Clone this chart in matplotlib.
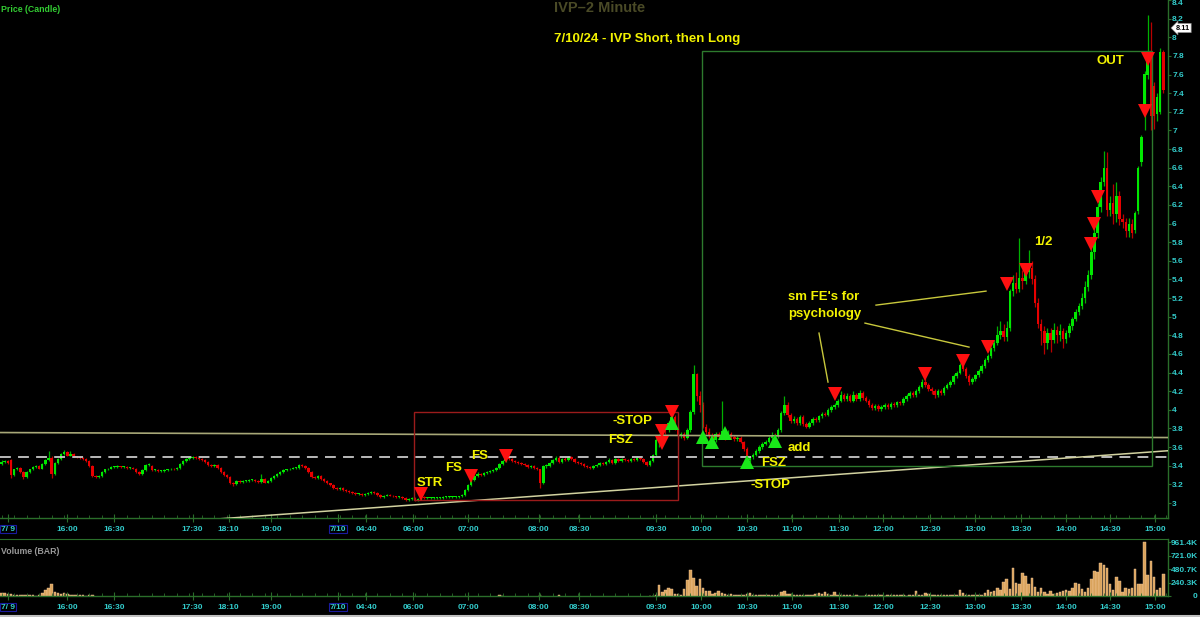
import matplotlib.pyplot as plt
import numpy as np
from matplotlib.patches import Rectangle
from matplotlib.lines import Line2D

plt.rcParams['font.family'] = ['Liberation Sans', 'DejaVu Sans']

# 2-minute candles, bar 0 = 7/9 after hours, bar 207 = 7/10 09:30
opens = [
    3.42, 3.44, 3.45, 3.46, 3.30, 3.36, 3.38, 3.33, 3.28, 3.33,
    3.36, 3.39, 3.40, 3.37, 3.42, 3.46, 3.48, 3.31, 3.43, 3.47,
    3.53, 3.55, 3.51, 3.53, 3.50, 3.49, 3.48, 3.47, 3.45, 3.40,
    3.29, 3.28, 3.29, 3.33, 3.36, 3.37, 3.39, 3.39, 3.40, 3.39,
    3.39, 3.38, 3.38, 3.37, 3.33, 3.31, 3.35, 3.41, 3.40, 3.35,
    3.35, 3.34, 3.34, 3.35, 3.36, 3.37, 3.36, 3.38, 3.42, 3.45,
    3.47, 3.48, 3.49, 3.48, 3.47, 3.46, 3.44, 3.41, 3.40, 3.41,
    3.38, 3.33, 3.30, 3.28, 3.22, 3.20, 3.24, 3.23, 3.24, 3.24,
    3.25, 3.25, 3.24, 3.23, 3.26, 3.22, 3.24, 3.27, 3.29, 3.31,
    3.33, 3.35, 3.36, 3.37, 3.38, 3.38, 3.41, 3.40, 3.38, 3.33,
    3.28, 3.27, 3.29, 3.26, 3.24, 3.21, 3.19, 3.16, 3.15, 3.16,
    3.14, 3.13, 3.12, 3.11, 3.10, 3.10, 3.09, 3.10, 3.11, 3.12,
    3.11, 3.09, 3.06, 3.08, 3.09, 3.08, 3.07, 3.06, 3.06, 3.05,
    3.03, 3.04, 3.05, 3.03, 3.04, 3.06, 3.05, 3.05, 3.05, 3.05,
    3.05, 3.05, 3.06, 3.06, 3.06, 3.06, 3.06, 3.07, 3.09, 3.14,
    3.19, 3.25, 3.29, 3.31, 3.30, 3.32, 3.33, 3.34, 3.35, 3.38,
    3.42, 3.45, 3.49, 3.47, 3.45, 3.44, 3.43, 3.42, 3.41, 3.39,
    3.40, 3.38, 3.36, 3.22, 3.40, 3.40, 3.43, 3.46, 3.48, 3.44,
    3.47, 3.46, 3.49, 3.47, 3.44, 3.43, 3.42, 3.40, 3.39, 3.38,
    3.40, 3.41, 3.43, 3.42, 3.44, 3.46, 3.43, 3.47, 3.45, 3.47,
    3.46, 3.45, 3.47, 3.46, 3.48, 3.47, 3.44, 3.41, 3.45, 3.52,
    3.68, 3.72, 3.80, 3.78, 3.86, 3.92, 3.80, 3.72, 3.74, 3.70,
    3.78, 3.98, 4.38, 4.15, 4.05, 3.82, 3.76, 3.72, 3.68, 3.74,
    3.71, 3.77, 3.70, 3.74, 3.71, 3.69, 3.70, 3.66, 3.58, 3.46,
    3.49, 3.52, 3.56, 3.60, 3.63, 3.66, 3.70, 3.73, 3.72, 3.78,
    3.97, 4.05, 3.95, 3.88, 3.90, 3.86, 3.92, 3.85, 3.82, 3.86,
    3.90, 3.89, 3.93, 3.96, 3.95, 4.00, 4.03, 4.05, 4.10, 4.16,
    4.12, 4.15, 4.10, 4.16, 4.12, 4.18, 4.13, 4.10, 4.05, 4.02,
    4.04, 4.01, 4.03, 4.05, 4.03, 4.06, 4.05, 4.08, 4.07, 4.12,
    4.15, 4.18, 4.16, 4.20, 4.25, 4.30, 4.27, 4.22, 4.20, 4.16,
    4.20, 4.18, 4.24, 4.27, 4.30, 4.36, 4.40, 4.48, 4.44, 4.36,
    4.30, 4.33, 4.37, 4.42, 4.47, 4.53, 4.58, 4.66, 4.72, 4.80,
    4.85, 4.78, 4.88, 5.28, 5.36, 5.30, 5.42, 5.38, 5.48, 5.52,
    5.40, 5.15, 4.92, 4.85, 4.72, 4.82, 4.75, 4.86, 4.80, 4.85,
    4.76, 4.82, 4.90, 4.98, 5.05, 5.12, 5.20, 5.32, 5.45, 5.70,
    5.90, 6.18, 6.45, 6.60, 6.15, 6.22, 6.10, 6.30, 6.05, 6.02,
    5.92, 6.00, 5.93, 6.14, 6.66, 7.22, 7.60, 7.78, 7.48, 7.18,
    7.20, 7.84]

highs = [
    3.46, 3.46, 3.46, 3.47, 3.37, 3.39, 3.39, 3.34, 3.34, 3.37,
    3.40, 3.41, 3.41, 3.43, 3.47, 3.56, 3.50, 3.44, 3.48, 3.54,
    3.57, 3.56, 3.56, 3.54, 3.51, 3.50, 3.49, 3.48, 3.46, 3.41,
    3.30, 3.30, 3.34, 3.37, 3.38, 3.40, 3.40, 3.41, 3.40, 3.40,
    3.40, 3.39, 3.39, 3.38, 3.34, 3.36, 3.42, 3.43, 3.41, 3.36,
    3.36, 3.35, 3.36, 3.37, 3.38, 3.38, 3.39, 3.43, 3.46, 3.48,
    3.50, 3.51, 3.50, 3.49, 3.48, 3.47, 3.45, 3.42, 3.42, 3.42,
    3.39, 3.34, 3.31, 3.29, 3.23, 3.25, 3.25, 3.25, 3.25, 3.26,
    3.26, 3.26, 3.25, 3.31, 3.27, 3.25, 3.28, 3.30, 3.32, 3.34,
    3.36, 3.37, 3.38, 3.39, 3.39, 3.42, 3.42, 3.41, 3.39, 3.34,
    3.29, 3.30, 3.30, 3.27, 3.25, 3.22, 3.20, 3.17, 3.17, 3.17,
    3.15, 3.14, 3.13, 3.12, 3.11, 3.11, 3.11, 3.12, 3.13, 3.13,
    3.12, 3.10, 3.09, 3.10, 3.10, 3.09, 3.08, 3.07, 3.07, 3.06,
    3.05, 3.06, 3.06, 3.05, 3.07, 3.07, 3.06, 3.06, 3.06, 3.06,
    3.06, 3.07, 3.07, 3.07, 3.07, 3.07, 3.08, 3.10, 3.15, 3.20,
    3.26, 3.30, 3.33, 3.32, 3.33, 3.34, 3.35, 3.36, 3.39, 3.43,
    3.46, 3.51, 3.50, 3.48, 3.46, 3.45, 3.44, 3.43, 3.42, 3.41,
    3.41, 3.39, 3.37, 3.41, 3.42, 3.44, 3.47, 3.50, 3.50, 3.48,
    3.49, 3.51, 3.50, 3.48, 3.45, 3.44, 3.43, 3.41, 3.40, 3.41,
    3.42, 3.44, 3.44, 3.45, 3.48, 3.47, 3.48, 3.48, 3.48, 3.48,
    3.47, 3.48, 3.48, 3.50, 3.49, 3.48, 3.45, 3.46, 3.53, 3.70,
    3.74, 3.82, 3.82, 3.88, 4.00, 3.94, 3.82, 3.76, 3.76, 3.80,
    4.00, 4.48, 4.40, 4.20, 4.08, 3.85, 3.80, 3.75, 3.76, 3.76,
    4.10, 3.80, 3.78, 3.76, 3.73, 3.72, 3.72, 3.67, 3.60, 3.51,
    3.54, 3.58, 3.62, 3.65, 3.68, 3.72, 3.76, 3.75, 3.80, 3.99,
    4.15, 4.08, 3.97, 3.93, 3.92, 3.94, 3.94, 3.87, 3.88, 3.92,
    3.92, 3.95, 3.98, 3.98, 4.02, 4.05, 4.07, 4.12, 4.20, 4.18,
    4.18, 4.17, 4.20, 4.18, 4.21, 4.20, 4.15, 4.12, 4.07, 4.06,
    4.06, 4.05, 4.07, 4.07, 4.08, 4.08, 4.10, 4.10, 4.14, 4.17,
    4.20, 4.20, 4.22, 4.27, 4.33, 4.34, 4.29, 4.25, 4.22, 4.22,
    4.22, 4.26, 4.29, 4.32, 4.38, 4.42, 4.50, 4.50, 4.46, 4.38,
    4.35, 4.39, 4.44, 4.49, 4.56, 4.60, 4.68, 4.75, 4.90, 4.95,
    4.92, 4.95, 5.30, 5.45, 5.48, 5.84, 5.50, 5.58, 5.72, 5.60,
    5.45, 5.20, 4.98, 4.90, 4.88, 4.88, 4.93, 4.90, 4.92, 4.88,
    4.86, 4.93, 5.00, 5.08, 5.15, 5.25, 5.38, 5.50, 5.76, 5.95,
    6.22, 6.50, 6.78, 6.77, 6.30, 6.42, 6.45, 6.35, 6.10, 6.06,
    6.06, 6.05, 6.14, 6.62, 6.95, 7.64, 8.24, 8.16, 7.52, 7.40,
    7.88, 7.86]

lows = [
    3.41, 3.43, 3.42, 3.27, 3.29, 3.35, 3.32, 3.26, 3.27, 3.32,
    3.35, 3.38, 3.36, 3.36, 3.41, 3.45, 3.27, 3.30, 3.42, 3.46,
    3.52, 3.50, 3.50, 3.49, 3.48, 3.47, 3.46, 3.44, 3.39, 3.28,
    3.27, 3.27, 3.28, 3.32, 3.35, 3.36, 3.38, 3.38, 3.38, 3.38,
    3.37, 3.37, 3.36, 3.32, 3.30, 3.30, 3.34, 3.40, 3.34, 3.34,
    3.33, 3.33, 3.33, 3.34, 3.35, 3.35, 3.35, 3.37, 3.41, 3.44,
    3.46, 3.47, 3.47, 3.46, 3.45, 3.43, 3.40, 3.39, 3.39, 3.37,
    3.32, 3.29, 3.27, 3.20, 3.18, 3.19, 3.22, 3.22, 3.23, 3.23,
    3.24, 3.23, 3.22, 3.22, 3.21, 3.21, 3.23, 3.26, 3.28, 3.30,
    3.32, 3.34, 3.35, 3.36, 3.37, 3.37, 3.39, 3.37, 3.32, 3.27,
    3.26, 3.26, 3.25, 3.23, 3.20, 3.18, 3.15, 3.14, 3.14, 3.13,
    3.12, 3.11, 3.10, 3.09, 3.09, 3.08, 3.08, 3.09, 3.10, 3.10,
    3.08, 3.05, 3.05, 3.07, 3.07, 3.06, 3.05, 3.05, 3.04, 3.02,
    3.02, 3.03, 3.02, 3.02, 3.03, 3.04, 3.04, 3.04, 3.04, 3.04,
    3.04, 3.04, 3.05, 3.05, 3.05, 3.05, 3.05, 3.06, 3.08, 3.13,
    3.18, 3.24, 3.28, 3.29, 3.29, 3.31, 3.32, 3.33, 3.34, 3.37,
    3.41, 3.44, 3.46, 3.44, 3.43, 3.42, 3.41, 3.40, 3.38, 3.38,
    3.37, 3.35, 3.16, 3.20, 3.38, 3.39, 3.42, 3.45, 3.43, 3.43,
    3.45, 3.45, 3.46, 3.43, 3.42, 3.41, 3.39, 3.38, 3.37, 3.37,
    3.39, 3.40, 3.41, 3.41, 3.43, 3.42, 3.42, 3.44, 3.44, 3.45,
    3.44, 3.44, 3.45, 3.45, 3.46, 3.43, 3.40, 3.40, 3.44, 3.50,
    3.60, 3.70, 3.74, 3.76, 3.84, 3.78, 3.70, 3.70, 3.68, 3.69,
    3.76, 3.96, 4.10, 3.98, 3.80, 3.74, 3.70, 3.66, 3.66, 3.69,
    3.69, 3.68, 3.69, 3.69, 3.67, 3.67, 3.64, 3.56, 3.42, 3.44,
    3.47, 3.50, 3.54, 3.58, 3.62, 3.64, 3.68, 3.70, 3.70, 3.76,
    3.95, 3.92, 3.86, 3.86, 3.84, 3.84, 3.83, 3.80, 3.80, 3.84,
    3.87, 3.87, 3.91, 3.93, 3.93, 3.98, 4.01, 4.03, 4.08, 4.10,
    4.10, 4.08, 4.08, 4.10, 4.10, 4.11, 4.08, 4.03, 4.00, 4.00,
    3.99, 3.99, 4.01, 4.01, 4.01, 4.03, 4.03, 4.05, 4.05, 4.10,
    4.13, 4.14, 4.14, 4.18, 4.23, 4.25, 4.20, 4.17, 4.13, 4.14,
    4.16, 4.16, 4.22, 4.25, 4.28, 4.34, 4.38, 4.42, 4.34, 4.27,
    4.28, 4.31, 4.35, 4.40, 4.45, 4.51, 4.56, 4.63, 4.70, 4.76,
    4.74, 4.74, 4.85, 5.22, 5.25, 5.26, 5.30, 5.35, 5.42, 5.35,
    5.10, 4.88, 4.70, 4.60, 4.65, 4.62, 4.72, 4.72, 4.74, 4.66,
    4.72, 4.78, 4.86, 4.95, 5.02, 5.08, 5.15, 5.28, 5.40, 5.62,
    5.85, 6.12, 6.40, 6.08, 6.08, 6.00, 6.02, 5.98, 5.95, 5.86,
    5.86, 5.84, 5.90, 6.10, 6.62, 7.00, 7.55, 7.00, 7.02, 7.10,
    7.18, 7.40]

closes = [
    3.44, 3.45, 3.43, 3.30, 3.36, 3.38, 3.33, 3.28, 3.33, 3.36,
    3.39, 3.40, 3.37, 3.42, 3.46, 3.48, 3.31, 3.43, 3.47, 3.53,
    3.55, 3.51, 3.53, 3.50, 3.49, 3.48, 3.47, 3.45, 3.40, 3.29,
    3.28, 3.29, 3.33, 3.36, 3.37, 3.39, 3.39, 3.40, 3.39, 3.39,
    3.38, 3.38, 3.37, 3.33, 3.31, 3.35, 3.41, 3.42, 3.35, 3.35,
    3.34, 3.34, 3.35, 3.36, 3.37, 3.36, 3.38, 3.42, 3.45, 3.47,
    3.48, 3.49, 3.48, 3.47, 3.46, 3.44, 3.41, 3.40, 3.41, 3.38,
    3.33, 3.30, 3.28, 3.22, 3.20, 3.24, 3.23, 3.24, 3.24, 3.25,
    3.25, 3.24, 3.23, 3.26, 3.22, 3.24, 3.27, 3.29, 3.31, 3.33,
    3.35, 3.36, 3.37, 3.38, 3.38, 3.41, 3.40, 3.38, 3.33, 3.28,
    3.27, 3.29, 3.26, 3.24, 3.21, 3.19, 3.16, 3.15, 3.16, 3.14,
    3.13, 3.12, 3.11, 3.10, 3.10, 3.09, 3.10, 3.11, 3.12, 3.11,
    3.09, 3.06, 3.08, 3.09, 3.08, 3.07, 3.06, 3.06, 3.05, 3.03,
    3.04, 3.05, 3.03, 3.04, 3.06, 3.05, 3.05, 3.05, 3.05, 3.05,
    3.05, 3.06, 3.06, 3.06, 3.06, 3.06, 3.07, 3.09, 3.14, 3.19,
    3.25, 3.29, 3.31, 3.30, 3.32, 3.33, 3.34, 3.35, 3.38, 3.42,
    3.45, 3.49, 3.47, 3.45, 3.44, 3.43, 3.42, 3.41, 3.39, 3.40,
    3.38, 3.36, 3.22, 3.40, 3.40, 3.43, 3.46, 3.48, 3.44, 3.47,
    3.46, 3.49, 3.47, 3.44, 3.43, 3.42, 3.40, 3.39, 3.38, 3.40,
    3.41, 3.43, 3.42, 3.44, 3.46, 3.43, 3.47, 3.45, 3.47, 3.46,
    3.45, 3.47, 3.46, 3.48, 3.47, 3.44, 3.41, 3.45, 3.52, 3.68,
    3.72, 3.80, 3.78, 3.86, 3.92, 3.80, 3.72, 3.74, 3.70, 3.78,
    3.98, 4.38, 4.15, 4.05, 3.82, 3.76, 3.72, 3.68, 3.74, 3.71,
    3.77, 3.70, 3.74, 3.71, 3.69, 3.70, 3.66, 3.58, 3.46, 3.49,
    3.52, 3.56, 3.60, 3.63, 3.66, 3.70, 3.73, 3.72, 3.78, 3.97,
    4.05, 3.95, 3.88, 3.90, 3.86, 3.92, 3.85, 3.82, 3.86, 3.90,
    3.89, 3.93, 3.96, 3.95, 4.00, 4.03, 4.05, 4.10, 4.16, 4.12,
    4.15, 4.10, 4.16, 4.12, 4.18, 4.13, 4.10, 4.05, 4.02, 4.04,
    4.01, 4.03, 4.05, 4.03, 4.06, 4.05, 4.08, 4.07, 4.12, 4.15,
    4.18, 4.16, 4.20, 4.25, 4.30, 4.27, 4.22, 4.20, 4.16, 4.20,
    4.18, 4.24, 4.27, 4.30, 4.36, 4.40, 4.48, 4.44, 4.36, 4.30,
    4.33, 4.37, 4.42, 4.47, 4.53, 4.58, 4.66, 4.72, 4.80, 4.85,
    4.78, 4.88, 5.28, 5.36, 5.30, 5.42, 5.38, 5.48, 5.52, 5.40,
    5.15, 4.92, 4.85, 4.72, 4.82, 4.75, 4.86, 4.80, 4.85, 4.76,
    4.82, 4.90, 4.98, 5.05, 5.12, 5.20, 5.32, 5.45, 5.70, 5.90,
    6.18, 6.45, 6.60, 6.15, 6.22, 6.10, 6.30, 6.05, 6.02, 5.92,
    6.00, 5.90, 6.11, 6.60, 6.93, 7.61, 7.76, 7.15, 7.16, 7.36,
    7.84, 7.43]

# volume in K
vol_ah = [60, 45, 40, 30, 25, 15, 10, 12, 10, 14, 12, 8, 10, 60, 100,
          150, 210, 70, 55, 40, 50, 30, 25, 20, 15, 10, 18, 8, 12, 10]
vol_pre_bars = [159, 160, 172, 178]
vol_pre = [10, 8, 25, 10]
rth_start = 207
vol_rth = [
    5, 0, 24, 204, 72, 114, 150, 132, 42, 30,
    24, 132, 282, 456, 318, 180, 306, 150, 84, 84,
    42, 54, 84, 48, 36, 24, 30, 18, 24, 12,
    20, 36, 48, 24, 15, 20, 10, 18, 12, 10,
    12, 20, 72, 84, 30, 42, 10, 15, 10, 12,
    20, 14, 24, 30, 48, 36, 66, 30, 24, 72,
    15, 15, 12, 10, 10, 8, 12, 6, 4, 10,
    12, 15, 20, 12, 10, 8, 18, 24, 10, 12,
    12, 10, 8, 10, 12, 84, 20, 20, 54, 30,
    15, 12, 18, 20, 24, 20, 12, 10, 15, 114,
    48, 12, 20, 10, 15, 12, 20, 60, 114, 72,
    90, 144, 114, 252, 300, 130, 498, 234, 210, 408,
    354, 220, 318, 160, 80, 150, 72, 40, 90, 30,
    50, 72, 90, 114, 90, 150, 234, 210, 126, 72,
    150, 294, 438, 426, 582, 546, 492, 222, 102, 330,
    264, 66, 138, 132, 150, 474, 210, 210, 961, 366,
    630, 330, 114, 150, 396]

# signal markers (bar, price)
sell_bars = [134, 150, 161, 211, 211, 214, 266, 295, 307, 315, 321, 327, 348, 349, 350, 365, 366]
sell_px = [3.10, 3.29, 3.50, 3.77, 3.64, 3.98, 4.17, 4.39, 4.52, 4.68, 5.35, 5.50, 5.78, 6.00, 6.29, 7.21, 7.77]
buy_bars = [214, 224, 227, 231, 238, 247]
buy_px = [3.86, 3.71, 3.65, 3.75, 3.44, 3.67]

tick_pos = [2, 21, 36, 61, 72.5, 86, 107.5, 116.5, 131.5, 149, 171.5, 184.5,
            209, 223.5, 238, 252.5, 267.5, 281.5, 296.5, 311, 325.5, 340, 354, 368.5]
tick_lbl = ["7/ 9", "16:00", "16:30", "17:30", "18:10", "19:00", "7/10", "04:40",
            "06:00", "07:00", "08:00", "08:30", "09:30", "10:00", "10:30", "11:00",
            "11:30", "12:00", "12:30", "13:00", "13:30", "14:00", "14:30", "15:00"]
price_ticks = [3, 3.2, 3.4, 3.6, 3.8, 4, 4.2, 4.4, 4.6, 4.8, 5, 5.2, 5.4, 5.6,
               5.8, 6, 6.2, 6.4, 6.6, 6.8, 7, 7.2, 7.4, 7.6, 7.8, 8, 8.2, 8.4]
vol_ticks = [0, 240.3, 480.7, 721.0, 961.4]
vol_lbl = ["0", "240.3K", "480.7K", "721.0K", "961.4K"]
last_price = 8.11

# ---- layout helpers (pixel -> data) ----
W, H = 1200, 617
PX_R = 1168
S = PX_R / 373.0


def bx(px):
    return px / S - 0.5


def pr(py):
    return 8 - (py - 37) / 93.2


def fx(px):
    return px / W


def fy(py):
    return 1 - py / H


GRN = '#2a6e2a'
CYAN = '#33cccc'
YEL = '#f2f200'

fig = plt.figure(figsize=(12, 6.17), dpi=100, facecolor='black')
ax = fig.add_axes([0, fy(518), PX_R / W, 518 / H], facecolor='black')
axv = fig.add_axes([0, fy(596), PX_R / W, 57 / H], facecolor='black')

o = np.array(opens)
hi = np.array(highs)
lo = np.array(lows)
c = np.array(closes)
x = np.arange(len(c))
up = c >= o
body_col = np.where(up, '#00e800', '#e80000')
wick_col = np.where(up, '#00b000', '#b80000')
ax.vlines(x, lo, hi, colors=wick_col, lw=0.9, zorder=2)
ax.bar(x, np.maximum(np.abs(c - o), 0.01), bottom=np.minimum(o, c), width=0.78,
       color=body_col, lw=0, zorder=3)

# reference lines and boxes
ax.plot([bx(0), bx(PX_R)], [pr(432.5), pr(437.5)], color='#a8a878', lw=1.2, zorder=4)
ax.axhline(pr(456.5), color='#c8c8c8', lw=1.3, dashes=(6, 4), zorder=4)
ax.plot([bx(217), bx(PX_R)], [pr(519), pr(450.7)], color='#d2d2a0', lw=1.1, zorder=4)
ax.add_patch(Rectangle((bx(414), pr(500)), bx(678) - bx(414), pr(412) - pr(500),
                       fill=False, ec='#9b1b1b', lw=1, zorder=4))
ax.add_patch(Rectangle((bx(702), pr(466)), bx(1152) - bx(702), pr(51) - pr(466),
                       fill=False, ec='#2d7a2d', lw=1, zorder=4))

ax.plot(sell_bars, sell_px, 'v', color='#ff1010', ms=9.5, mew=0, zorder=6)
ax.plot(buy_bars, buy_px, '^', color='#19e619', ms=9.5, mew=0, zorder=6)

# pointer lines for the note
for (x0, y0, x1, y1) in [(876, 305, 986, 291), (865, 323, 969, 347), (819, 333, 828, 382)]:
    ax.plot([bx(x0), bx(x1)], [pr(y0), pr(y1)], color='#c8c83c', lw=1, zorder=5)

ax.set_xlim(-0.5, 372.5)
ax.set_ylim(pr(518), pr(0))

# volume
vcol, vedge = '#d9a35c', '#f2c99c'
axv.bar(np.arange(len(vol_ah)), vol_ah, width=0.8, color=vcol, ec=vedge, lw=0.3)
axv.bar(vol_pre_bars, vol_pre, width=0.8, color=vcol, ec=vedge, lw=0.3)
axv.bar(np.arange(rth_start, rth_start + len(vol_rth)), vol_rth, width=0.8,
        color=vcol, ec=vedge, lw=0.3)
axv.set_xlim(-0.5, 372.5)
axv.set_ylim(0, 1015)

for a in (ax, axv):
    for s in ('left', 'top'):
        a.spines[s].set_visible(False)
    for s in ('right', 'bottom'):
        a.spines[s].set_color(GRN)
        a.spines[s].set_linewidth(1)
    a.set_xticks(tick_pos)
    a.set_xticklabels(tick_lbl)
    a.set_xticks(np.arange(0, 373, 4), minor=True)
    a.tick_params(axis='x', which='major', direction='inout', length=6, color=GRN,
                  labelcolor=CYAN, labelsize=6.0, pad=2.5)
    a.tick_params(axis='x', which='minor', direction='in', length=2.5, color=GRN)
    for lab in a.get_xticklabels():
        lab.set_fontweight('bold')
        if lab.get_text() in ("7/ 9", "7/10"):
            lab.set_bbox(dict(facecolor='none', edgecolor='#1a1aa0', pad=0.6, lw=0.8))
    a.yaxis.tick_right()

axv.spines['top'].set_visible(True)
axv.spines['top'].set_color(GRN)

ax.set_yticks(price_ticks)
ax.set_yticklabels(['%g' % t for t in price_ticks])
ax.tick_params(axis='y', direction='out', length=2, color=GRN, labelcolor=CYAN,
               labelsize=6.0, pad=1)
for lab in ax.get_yticklabels():
    lab.set_fontweight('bold')
    if lab.get_text() == '8.4':
        lab.set_verticalalignment('top')

axv.set_yticks(vol_ticks)
axv.set_yticklabels(vol_lbl)
axv.tick_params(axis='y', direction='out', length=2, color=GRN, labelcolor=CYAN,
                labelsize=6.0, pad=19.5)
for lab in axv.get_yticklabels():
    lab.set_fontweight('bold')
    lab.set_horizontalalignment('right')

# last price tag
fig.text(fx(1183), fy(28), '%.2f' % last_price, color='black', fontsize=5.3,
         weight='bold', ha='center', va='center',
         bbox=dict(boxstyle='larrow,pad=0.15', fc='white', ec='#888888', lw=0.5))

# titles
fig.text(fx(1), fy(9), "Price (Candle)", color='#33cc33', fontsize=6.3, weight='bold',
         ha='left', va='center')
fig.text(fx(1), fy(552), "Volume (BAR)", color='#999999', fontsize=6.3, weight='bold',
         ha='left', va='center')
fig.text(fx(600), fy(8), "IVP\u20132 Minute", color='#4a4a26', fontsize=10.5,
         weight='bold', ha='center', va='center')
fig.text(fx(647.5), fy(39), "7/10/24 - IVP Short, then Long", color=YEL, fontsize=9.5,
         weight='bold', ha='center', va='center')

notes = [("OUT", 1110, 61), ("1/2", 1043, 242), ("STR", 429.5, 483), ("FS", 454, 468),
         ("FS", 479.5, 456), ("-STOP", 632.5, 421), ("FSZ", 621, 440), ("add", 799, 448),
         ("FSZ", 773.5, 463), ("-STOP", 770, 485)]
for t, px, py in notes:
    fig.text(fx(px), fy(py), t, color=YEL, fontsize=9.5, weight='bold',
             ha='center', va='center')
fig.text(fx(788), fy(297), "sm FE's for", color=YEL, fontsize=9.5, weight='bold',
         ha='left', va='center')
fig.text(fx(788), fy(314), "psychology", color=YEL, fontsize=9.5, weight='bold',
         ha='left', va='center')

fig.add_artist(Line2D([0, 1], [fy(616), fy(616)], color='#c0c0c0', lw=1.5))

fig.savefig('out.png', dpi=100, facecolor='black')
